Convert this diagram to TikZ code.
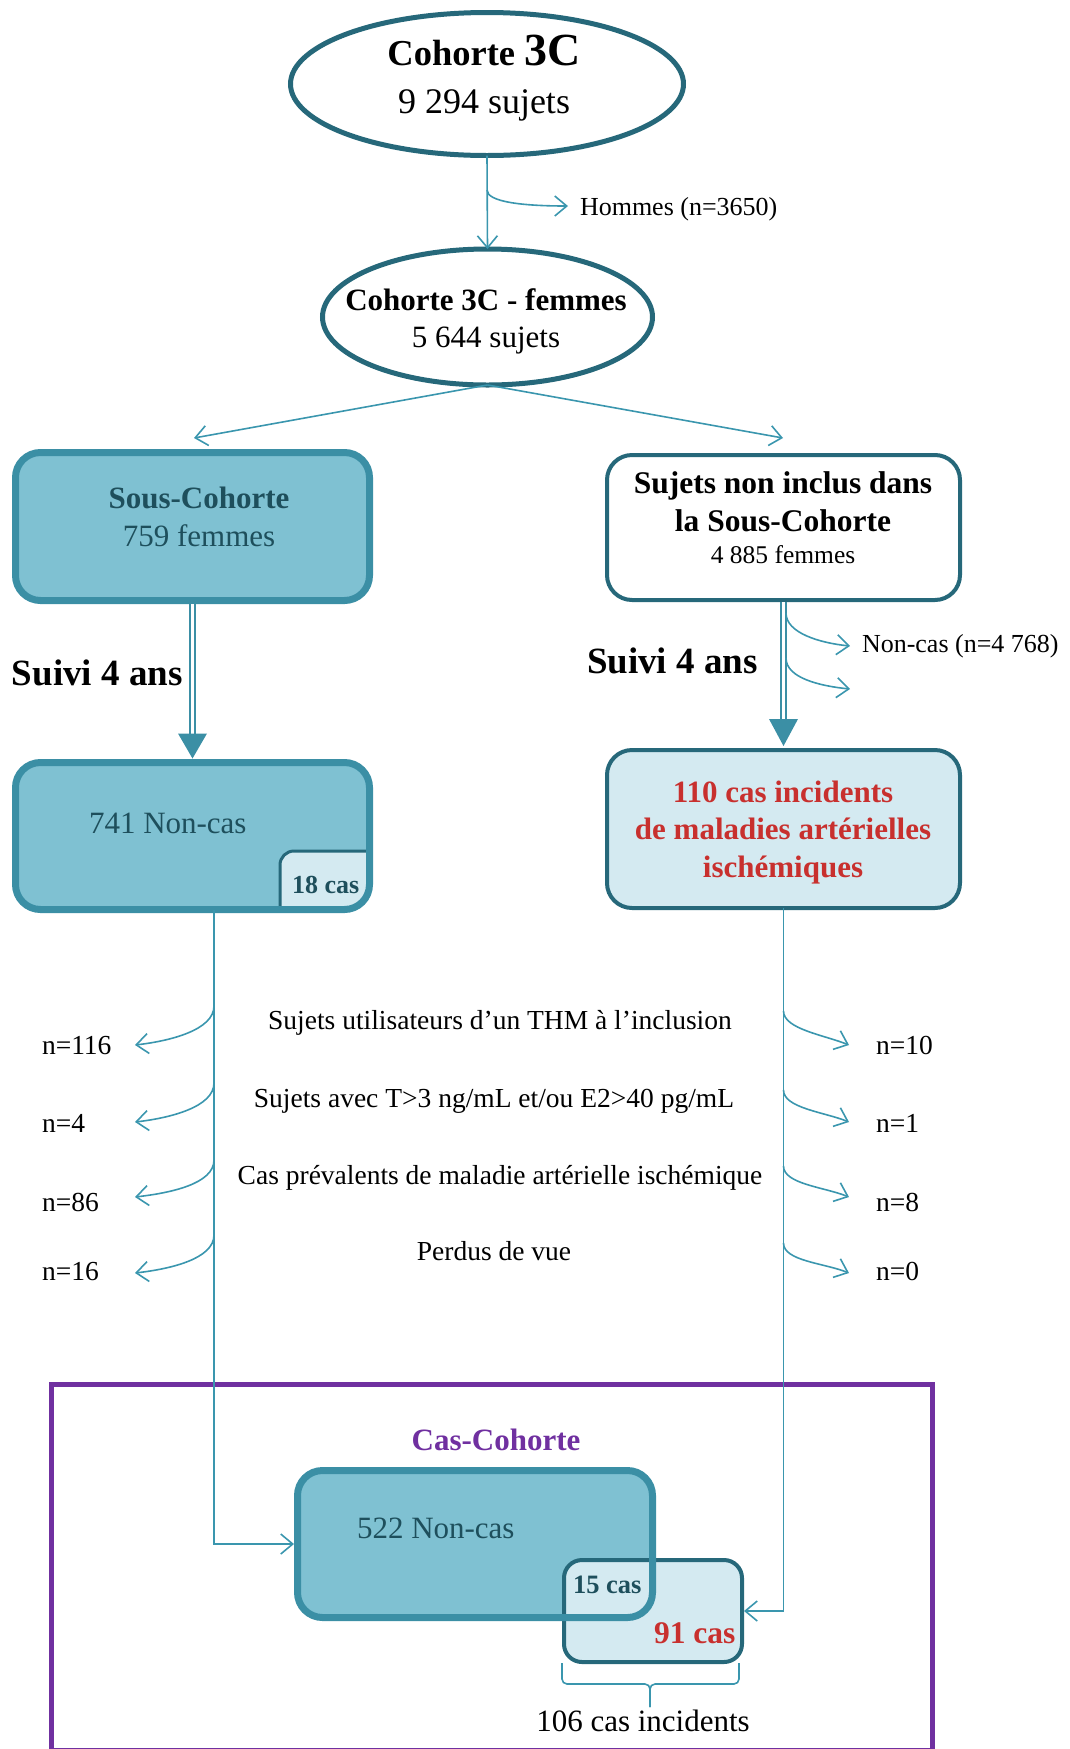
\documentclass[tikz,border=0pt]{standalone}
\usepackage{fontspec}
\setmainfont{Liberation Serif}
\usetikzlibrary{shapes.geometric,arrows.meta,calc}
\definecolor{ellc}{RGB}{38,104,122}
\definecolor{boxc}{RGB}{59,143,165}
\definecolor{boxfill}{RGB}{127,193,210}
\definecolor{lightc}{RGB}{212,234,241}
\definecolor{arrc}{RGB}{58,150,174}
\definecolor{dtext}{RGB}{30,79,92}
\definecolor{redc}{RGB}{200,48,46}
\definecolor{purp}{RGB}{112,48,160}
\newcommand{\fsz}[1]{\fontsize{#1}{#1}\selectfont}
\begin{document}
\begin{tikzpicture}[x=1pt,y=1pt,
  txt/.style={inner sep=0pt, outer sep=0pt, anchor=base},
  ell/.style={ellipse, draw=ellc, line width=5pt, fill=white, inner sep=0pt, outer sep=0pt},
  arr/.style={draw=arrc, line width=1.6pt, -{Straight Barb[length=12pt,width=20pt]}},
  lin/.style={draw=arrc, line width=1.6pt},
  dbl/.style={draw=boxc, line width=2.3pt, double=white, double distance=3pt},
  bigbox/.style={rectangle, rounded corners=25pt, fill=boxfill, draw=boxc, line width=7pt, inner sep=0pt, outer sep=0pt},
  bigfill/.style={rectangle, rounded corners=25pt, fill=boxfill, inner sep=0pt, outer sep=0pt},
  bigborder/.style={draw=boxc, line width=7pt, rounded corners=25pt},
  thinbox/.style={rectangle, rounded corners=25pt, draw=ellc, line width=4pt, inner sep=0pt, outer sep=0pt}
]
\useasboundingbox (0,0) rectangle (1069,-1749);

% top ellipses
\node[ell, minimum width=393pt, minimum height=143pt] (c3c) at (487,-84) {};
\node[txt] (c3ct1) at (484,-65) {\fsz{36.5}\bfseries Cohorte {\fsz{46}3C}};
\node[txt] (c3ct2) at (484,-113) {\fsz{36}9 294 sujets};

\node[ell, minimum width=330pt, minimum height=136pt] (c3f) at (487.5,-317) {};
\node[txt] (c3ft1) at (486,-310) {\fsz{31}\bfseries Cohorte 3C - femmes};
\node[txt] (c3ft2) at (486,-347) {\fsz{31}5 644 sujets};

\draw[arr] (c3c.south) -- (c3f.north);
\coordinate (hb) at (487,-190);
\coordinate (ht) at (568,-206);
\draw[arr] (hb) .. controls +(0,-12) and +(-45,0) .. (ht);
\node[txt, anchor=base west] (hom) at (580,-215) {\fsz{26}Hommes (n=3650)};

\coordinate (tl) at (194,-438);
\coordinate (tr) at (783,-438);
\draw[arr] (c3f.south) -- (tl);
\draw[arr] (c3f.south) -- (tr);

% left column
\node[bigbox, minimum width=354pt, minimum height=148pt] (sc) at (192.5,-526.5) {};
\node[txt, text=dtext] (sct1) at (199,-508) {\fsz{31}\bfseries Sous-Cohorte};
\node[txt, text=dtext] (sct2) at (199,-546) {\fsz{31}759 femmes};

\node[bigfill, minimum width=354pt, minimum height=147pt] (nc) at (192.5,-836) {};
\begin{scope}
  \clip[rounded corners=25pt] (nc.south west) rectangle (nc.north east);
  \filldraw[fill=lightc, draw=ellc, line width=3pt] (369.5,-851) [rounded corners=14pt] -- (280,-851) [sharp corners] -- (280,-909.5) -- (369.5,-909.5) -- cycle;
\end{scope}
\draw[bigborder] (nc.south west) rectangle (nc.north east);
\node[txt, anchor=base west, text=dtext] (nct) at (89,-833) {\fsz{31}741 Non-cas};
\node[txt, anchor=base west, text=dtext] (c18) at (292,-893) {\fsz{26}\bfseries 18 cas};

\draw[dbl, shorten <=3.5pt] (sc.south) -- ([yshift=25pt]nc.north);
\fill[boxc] ([yshift=4pt]nc.north) -- ++(-14.5,25) -- ++(29,0) -- cycle;
\node[txt, anchor=base west] (s4l) at (12,-685) {\fsz{37}\bfseries Suivi 4 ans};

% right column
\node[thinbox, fill=white, minimum width=353pt, minimum height=145pt] (sni) at (783.5,-527.5) {};
\node[txt] (snit1) at (783,-493) {\fsz{31.5}\bfseries Sujets non inclus dans};
\node[txt] (snit2) at (783,-531) {\fsz{31.5}\bfseries la Sous-Cohorte};
\node[txt] (snit3) at (783,-563) {\fsz{25.5}4 885 femmes};

\node[thinbox, fill=lightc, minimum width=353pt, minimum height=158pt] (cas) at (783.5,-829) {};
\node[txt, text=redc] (cast1) at (783,-802) {\fsz{31}\bfseries 110 cas incidents};
\node[txt, text=redc] (cast2) at (783,-839) {\fsz{31}\bfseries de maladies artérielles};
\node[txt, text=redc] (cast3) at (783,-877) {\fsz{31}\bfseries ischémiques};

\draw[dbl, shorten <=2pt] (sni.south) -- ([yshift=29pt]cas.north);
\fill[boxc] ([yshift=4pt]cas.north) -- ++(-14.5,27) -- ++(29,0) -- cycle;
\node[txt, anchor=base west] (s4r) at (587,-673) {\fsz{37}\bfseries Suivi 4 ans};

\coordinate (rb1) at (786,-613);
\coordinate (rt1) at (850,-646);
\coordinate (rb2) at (786,-658);
\coordinate (rt2) at (850,-689);
\draw[arr] (rb1) .. controls +(0,-20) and +(-30,3) .. (rt1);
\draw[arr] (rb2) .. controls +(0,-20) and +(-30,3) .. (rt2);
\node[txt, anchor=base west] (ncas) at (862,-652) {\fsz{26}Non-cas (n=4 768)};

% bottom boxes
\draw[purp, line width=5pt] (51.5,-1750) rectangle (932,-1384);
\node[txt, text=purp] (cct) at (496,-1450) {\fsz{31}\bfseries Cas-Cohorte};

\node[bigfill, minimum width=355pt, minimum height=147pt] (b522) at (475,-1544) {};
\node[thinbox, fill=lightc, rounded corners=18pt, minimum width=178pt, minimum height=102pt] (b91) at (653,-1611) {};
\draw[bigborder] (b522.south west) rectangle (b522.north east);
\node[txt, anchor=base west, text=dtext] (t522) at (357,-1538) {\fsz{31}522 Non-cas};
\node[txt, anchor=base west, text=dtext] (t15) at (573,-1593) {\fsz{26.5}\bfseries 15 cas};
\node[txt, anchor=base west, text=redc] (t91) at (654,-1643) {\fsz{31.5}\bfseries 91 cas};

% vertical lines
\draw[arr, shorten >=3.5pt] ([xshift=21.5pt]nc.south) |- (b522.west);
\draw[arr, shorten >=2pt] (cas.south) |- (b91.east);

% exclusion branches
\coordinate (lb1) at (214,-1006); \coordinate (lt1) at (135,-1045);
\coordinate (lb2) at (214,-1083); \coordinate (lt2) at (135,-1122);
\coordinate (lb3) at (214,-1160); \coordinate (lt3) at (135,-1197);
\coordinate (lb4) at (214,-1235); \coordinate (lt4) at (135,-1273);
\coordinate (rb3) at (783.5,-1011); \coordinate (rt3) at (849,-1045);
\coordinate (rb4) at (783.5,-1090); \coordinate (rt4) at (849,-1122);
\coordinate (rb5) at (783.5,-1166); \coordinate (rt5) at (849,-1197);
\coordinate (rb6) at (783.5,-1243); \coordinate (rt6) at (849,-1273);
\foreach \i in {1,2,3,4} {
  \draw[arr] (lb\i) .. controls +(0,-24) and +(35,4) .. (lt\i);
}
\foreach \i in {3,4,5,6} {
  \draw[arr] (rb\i) .. controls +(0,-18) and +(-25,10) .. (rt\i);
}
\node[txt, anchor=base west] (nl1) at (42,-1054) {\fsz{27.5}n=116};
\node[txt, anchor=base west] (nl2) at (42,-1132) {\fsz{27.5}n=4};
\node[txt, anchor=base west] (nl3) at (42,-1211) {\fsz{27.5}n=86};
\node[txt, anchor=base west] (nl4) at (42,-1280) {\fsz{27.5}n=16};
\node[txt, anchor=base west] (nr1) at (876,-1054) {\fsz{27.5}n=10};
\node[txt, anchor=base west] (nr2) at (876,-1132) {\fsz{27.5}n=1};
\node[txt, anchor=base west] (nr3) at (876,-1211) {\fsz{27.5}n=8};
\node[txt, anchor=base west] (nr4) at (876,-1280) {\fsz{27.5}n=0};
\node[txt] (m1) at (500,-1029) {\fsz{27.5}Sujets utilisateurs d’un THM à l’inclusion};
\node[txt] (m2) at (494,-1107) {\fsz{27.5}Sujets avec T>3 ng/mL et/ou E2>40 pg/mL};
\node[txt] (m3) at (500,-1184) {\fsz{27.5}Cas prévalents de maladie artérielle ischémique};
\node[txt] (m4) at (494,-1260) {\fsz{27.5}Perdus de vue};

% brace
\coordinate (bl) at (562,-1663);
\coordinate (br) at (739,-1663);
\coordinate (bh) at (650,-1684);
\coordinate (bt) at (650,-1707);
\draw[lin, rounded corners=5pt] (bl) -- (bl |- bh) -- (bh) -- (bt);
\draw[lin, rounded corners=5pt] (br) -- (br |- bh) -- (bh) -- (bt);
\node[txt] (inc) at (643,-1731) {\fsz{31}106 cas incidents};
\end{tikzpicture}
\end{document}
